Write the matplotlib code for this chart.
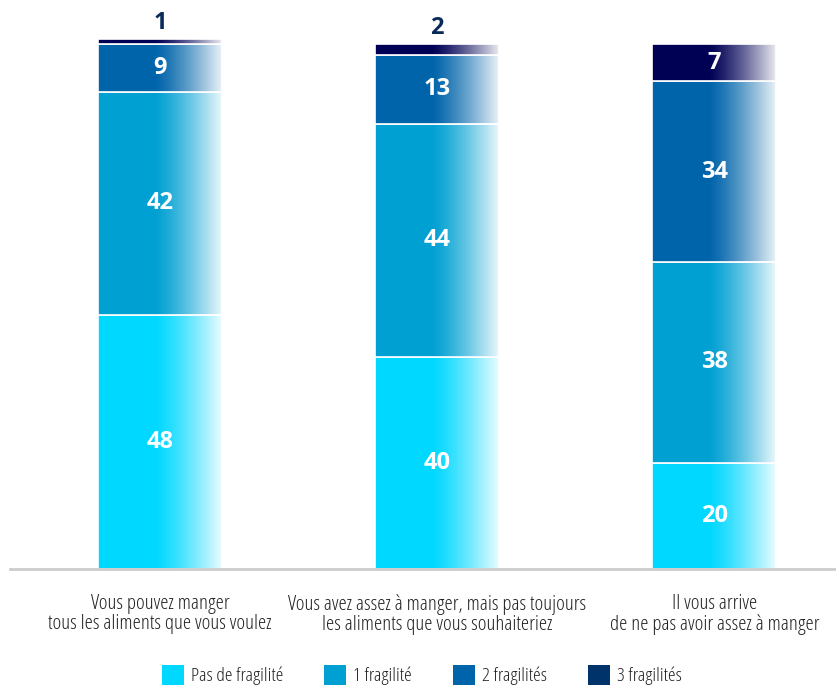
import numpy as np
import matplotlib
matplotlib.use('Agg')
import matplotlib.pyplot as plt
from matplotlib.patches import Patch

plt.rcParams['font.family'] = ['Open Sans', 'DejaVu Sans']
plt.rcParams['font.stretch'] = 'condensed'

# données
categories = ['Vous pouvez manger\ntous les aliments que vous voulez',
              'Vous avez assez à manger, mais pas toujours\nles aliments que vous souhaiteriez',
              'Il vous arrive\nde ne pas avoir assez à manger']
series = ['Pas de fragilité', '1 fragilité', '2 fragilités', '3 fragilités']
pas_fragilite = [48, 40, 20]
une_fragilite = [42, 44, 38]
deux_fragilites = [9, 13, 34]
trois_fragilites = [1, 2, 7]

valeurs = [pas_fragilite, une_fragilite, deux_fragilites, trois_fragilites]
couleurs = ['#00d8ff', '#00a0d2', '#0064aa', '#000055']
couleurs_legende = ['#00d8ff', '#00a0d2', '#0064aa', '#00336a']

fig = plt.figure(figsize=(8.37, 6.89), dpi=100)
ax = fig.add_axes([10/837, 120/689, 827/837, 530/689])

x = np.arange(len(categories))
largeur = 0.447

# degradé blanc (transparent a gauche, blanc a droite)
grad = np.zeros((1, 200, 4))
grad[..., :3] = 1.0
t = np.linspace(0, 1, 200)
grad[0, :, 3] = np.clip((t - 0.45) / 0.55, 0, 1) ** 1.3 * 0.92

bas = np.zeros(len(categories))
for i, vals in enumerate(valeurs):
    vals = np.array(vals)
    bars = ax.bar(x, vals, largeur, bottom=bas, color=couleurs[i],
                  edgecolor='white', linewidth=1.2, zorder=2)
    for b, v, b0 in zip(bars, vals, bas):
        x0 = b.get_x()
        ax.imshow(grad, extent=[x0, x0 + b.get_width(), b0, b0 + v],
                  aspect='auto', zorder=3, interpolation='bilinear')
        if v >= 5:
            ax.text(b.get_x() + b.get_width()/2, b0 + v/2, str(v),
                    ha='center', va='center', color='white',
                    fontsize=17, fontweight='bold', zorder=4)
        else:
            ax.text(b.get_x() + b.get_width()/2, b0 + v + 0.8, str(v),
                    ha='center', va='bottom', color='#0a2a5a',
                    fontsize=17, fontweight='bold', zorder=4, clip_on=False)
    bas = bas + vals

ax.set_xlim(-0.541, 2.442)
ax.set_ylim(0, 100)
ax.set_yticks([])
ax.set_xticks(x)
ax.set_xticklabels(categories, fontsize=15, color='#222222', linespacing=1.0)
ax.tick_params(axis='x', length=0, pad=18)
for s in ['top', 'right', 'left']:
    ax.spines[s].set_visible(False)
ax.spines['bottom'].set_color('#cccccc')
ax.spines['bottom'].set_linewidth(2)
ax.spines['bottom'].set_zorder(5)

handles = [Patch(facecolor=c, edgecolor='none') for c in couleurs_legende]
fig.legend(handles, series, loc='center', bbox_to_anchor=(0.504, 0.02),
           ncol=4, frameon=False, fontsize=14, handlelength=1.13,
           handleheight=1.2, handletextpad=0.36, columnspacing=2.1,
           labelcolor='#222222')

fig.savefig('out.png', dpi=100, facecolor='white')
